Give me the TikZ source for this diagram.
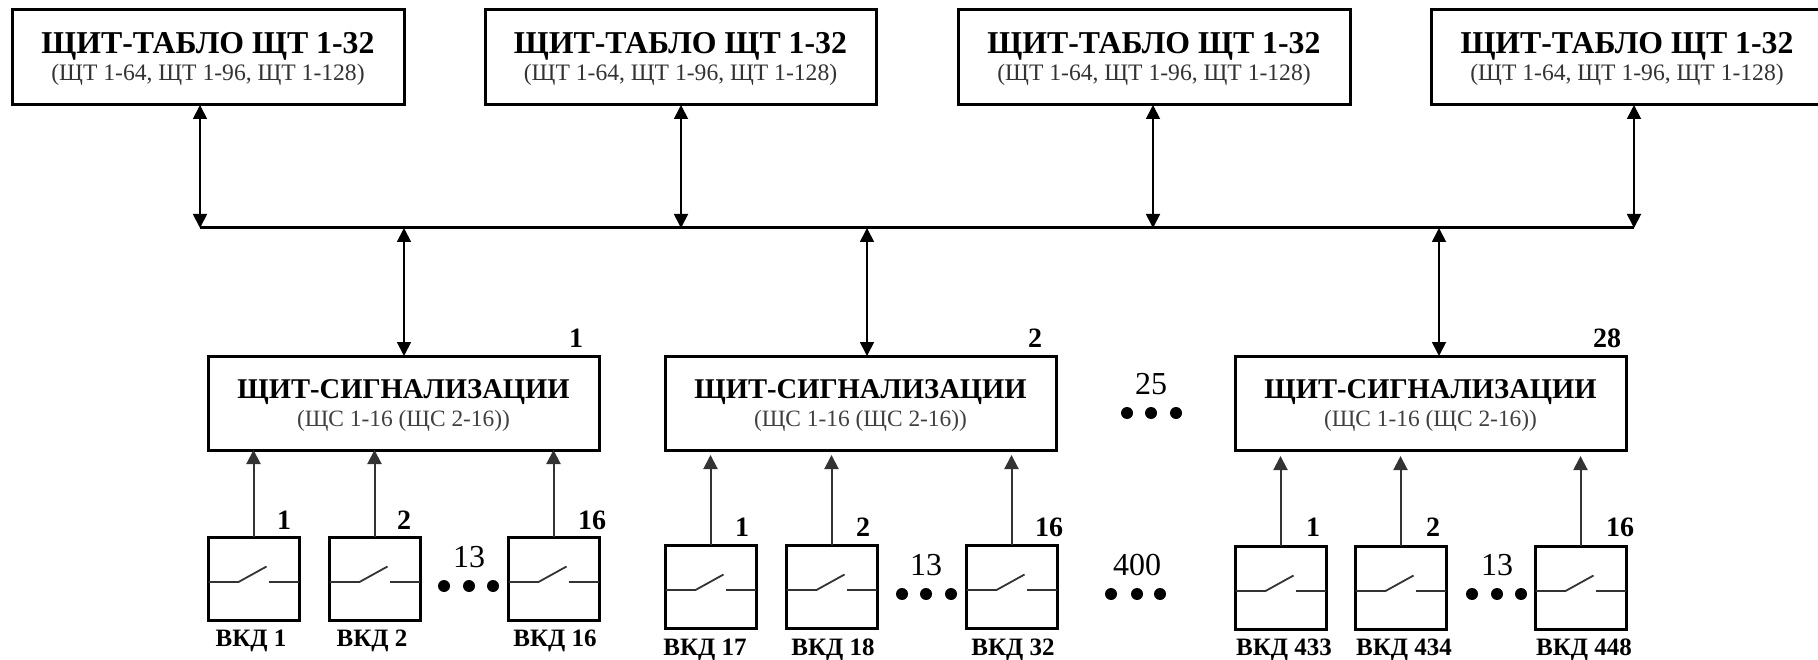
\documentclass[tikz,border=0pt]{standalone}
\usepackage{fontspec}
\setmainfont{Liberation Serif}
\usetikzlibrary{arrows.meta}
\newcommand{\tabloText}{{\fontsize{31.8}{33}\selectfont\bfseries\rule{0pt}{23.5pt}ЩИТ-ТАБЛО ЩТ 1-32}\\[2.5pt]{\fontsize{23.6}{25}\selectfont\color{black!80}(ЩТ 1-64, ЩТ 1-96, ЩТ 1-128)}}
\newcommand{\shsText}{{\fontsize{28.6}{30}\selectfont\bfseries\rule{0pt}{23.5pt}ЩИТ-СИГНАЛИЗАЦИИ}\\[4.5pt]{\fontsize{23.4}{25}\selectfont\color{black!75}(ЩС 1-16 (ЩС 2-16))}}
\newcommand{\contactsym}[1]{%
  \draw[contact,shift={(#1.center)}] (-45,3.5) -- (-15,3.5) -- (13,-12);
  \draw[contact,shift={(#1.center)}] (15,3.5) -- (45,3.5);}
\tikzset{
  tablo/.style={draw,line width=3pt,minimum height=95pt,inner sep=0pt,outer sep=0pt,align=center,anchor=north west,fill=white},
  shield/.style={draw,line width=3pt,minimum width=391pt,minimum height=94pt,inner sep=0pt,outer sep=0pt,align=center,anchor=north west,fill=white},
  sensor/.style={draw,line width=3pt,minimum width=91pt,minimum height=83pt,inner sep=0pt,outer sep=0pt,anchor=north west},
  contact/.style={line width=1.8pt,black!80},
  bus/.style={line width=3pt},
  link/.style={line width=1.8pt,{Triangle[length=14pt,width=14pt]}-{Triangle[length=14pt,width=14pt]}},
  feed/.style={line width=2pt,black!80,-{Triangle[length=14pt,width=14pt]}},
  lab/.style={font=\fontsize{25}{27}\selectfont\bfseries,inner sep=0pt},
  num/.style={font=\fontsize{28}{30}\selectfont\bfseries,inner sep=0pt},
  big/.style={font=\fontsize{32}{34}\selectfont,inner sep=0pt},
  dot/.style={circle,fill=black,inner sep=0pt,minimum size=12pt}
}
\begin{document}
\begin{tikzpicture}[x=1pt,y=-1pt]
\useasboundingbox (0,0) rectangle (1818,660);
% top panels
\node[tablo,minimum width=392pt] (t1) at (12,10) {\tabloText};
\node[tablo,minimum width=391pt] (t2) at (485,10) {\tabloText};
\node[tablo,minimum width=392pt] (t3) at (958,10) {\tabloText};
\node[tablo,minimum width=392pt] (t4) at (1431,10) {\tabloText};
% bus
\coordinate (bl) at (200,228);
\coordinate (br) at (1634,228);
\draw[bus] (bl) -- (br);
\draw[link] (200,105) coordinate (a1) -- (bl);
\draw[link] (681,105) coordinate (a2) -- (681,228) coordinate (a2b);
\draw[link] (1153,105) coordinate (a3) -- (1153,228) coordinate (a3b);
\draw[link] (1634,105) coordinate (a4) -- (br);
% signalling panels
\node[shield] (s1) at (208,356) {\shsText};
\node[shield] (s2) at (665,356) {\shsText};
\node[shield] (s3) at (1235,356) {\shsText};
\draw[link] (404,228) coordinate (b1) -- (404,356) coordinate (b1s);
\draw[link] (867,228) coordinate (b2) -- (867,356) coordinate (b2s);
\draw[link] (1439,228) coordinate (b3) -- (1439,356) coordinate (b3s);
\node[num] (n1) at (576,338) {1};
\node[num] (n2) at (1035,338) {2};
\node[num] (n3) at (1607,338) {28};
% sensors group 1
\node[sensor] (k11) at (208,537) {};
\node[sensor] (k12) at (329,537) {};
\node[sensor] (k13) at (508,537) {};
% sensors group 2
\node[sensor] (k21) at (665,545) {};
\node[sensor] (k22) at (786,545) {};
\node[sensor] (k23) at (966,545) {};
% sensors group 3
\node[sensor] (k31) at (1235,546) {};
\node[sensor] (k32) at (1355,546) {};
\node[sensor] (k33) at (1535,546) {};
\foreach \k in {k11,k12,k13,k21,k22,k23,k31,k32,k33}{\contactsym{\k}}
% feeds
\draw[feed] (k11.north) -- (k11.north |- s1.south);
\draw[feed] (k12.north) -- (k12.north |- s1.south);
\draw[feed] (k13.north) -- (k13.north |- s1.south);
\draw[feed,shorten >=5pt] (k21.north) -- (k21.north |- s2.south);
\draw[feed,shorten >=5pt] (k22.north) -- (k22.north |- s2.south);
\draw[feed,shorten >=5pt] (k23.north) -- (k23.north |- s2.south);
\draw[feed,shorten >=6pt] (k31.north) -- (k31.north |- s3.south);
\draw[feed,shorten >=6pt] (k32.north) -- (k32.north |- s3.south);
\draw[feed,shorten >=6pt] (k33.north) -- (k33.north |- s3.south);
% numbers over sensors
\node[num] (p11) at (284,520) {1};
\node[num] (p12) at (404,520) {2};
\node[num] (p13) at (592,520) {16};
\node[num] (p21) at (742,527) {1};
\node[num] (p22) at (863,527) {2};
\node[num] (p23) at (1049,527) {16};
\node[num] (p31) at (1313,527) {1};
\node[num] (p32) at (1433,527) {2};
\node[num] (p33) at (1620,527) {16};
% sensor labels
\node[lab] (l11) at (251,641) {ВКД 1};
\node[lab] (l12) at (372,641) {ВКД 2};
\node[lab] (l13) at (555,641) {ВКД 16};
\node[lab] (l21) at (705,650) {ВКД 17};
\node[lab] (l22) at (833,650) {ВКД 18};
\node[lab] (l23) at (1013,650) {ВКД 32};
\node[lab] (l31) at (1284,650) {ВКД 433};
\node[lab] (l32) at (1404,650) {ВКД 434};
\node[lab] (l33) at (1584,650) {ВКД 448};
% multiplicities
\node[big] (m1) at (469,557) {13};
\node[big] (m2) at (926,565) {13};
\node[big] (m3) at (1497,565) {13};
\node[big] (m4) at (1137,565) {400};
\node[big] (m5) at (1151,384) {25};
\foreach \x in {444,469,493}{\node[dot] at (\x,586) {};}
\foreach \x in {902,926,951}{\node[dot] at (\x,594) {};}
\foreach \x in {1472,1497,1521}{\node[dot] at (\x,594) {};}
\foreach \x in {1111,1137,1160}{\node[dot] at (\x,594) {};}
\foreach \x in {1127,1151,1176}{\node[dot] at (\x,413) {};}
\end{tikzpicture}
\end{document}
